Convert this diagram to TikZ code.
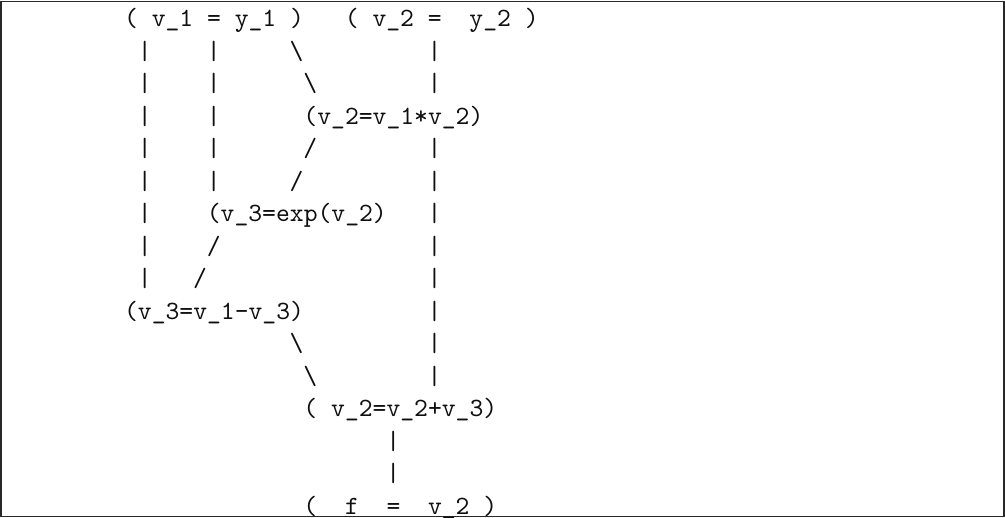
\documentclass[tikz,border=0pt]{standalone}
\usepackage{tikz}
\usepackage{xcolor}
\usetikzlibrary{positioning}
\definecolor{ink}{RGB}{15, 15, 15}
\definecolor{rim}{RGB}{40, 40, 40}
\tikzset{
    cell/.style={inner sep=0pt, outer sep=0pt, anchor=base west, font=\ttfamily, text=ink},
    stmt/.style={cell},
    wire/.style={cell},
    frame/.style={draw=rim, line width=0.45pt}
}

\begin{document}
\begin{tikzpicture}[x=0.184cm, y=-0.4333cm]
        \useasboundingbox (0,0) rectangle (72.83,15.94);
        \draw[frame] (0.072,0.046) rectangle (72.75,15.89);
        \begin{scope}[shift={(8.993,0.818)}]
        \node[stmt] (in1) at (0,0) {(~v\_1~=~y\_1~)};
        \node[stmt] (in2) at (16,0) {(~v\_2~=~~y\_2~)};
        \node[stmt] (mul) at (13,3) {(v\_2=v\_1*v\_2)};
        \node[stmt] (expo) at (6,6) {(v\_3=exp(v\_2)};
        \node[stmt] (sub) at (0,9) {(v\_3=v\_1-v\_3)};
        \node[stmt] (add) at (13,12) {(~v\_2=v\_2+v\_3)};
        \node[stmt] (out) at (13,15) {(~~f~~=~~v\_2~)};

        \foreach \r in {1,...,8} \node[wire] (l\r) at (1,\r) {|};
        \foreach \r in {1,...,5} \node[wire] (m\r) at (6,\r) {|};
        \foreach \r in {1,2,4,5,6,7,8,9,10,11} \node[wire] (r\r) at (22,\r) {|};
        \foreach \r in {13,14} \node[wire] (f\r) at (19,\r) {|};
        \foreach \c/\r in {12/1,13/2,12/10,13/11} \node[wire] (b\r) at (\c,\r) {\textbackslash};
        \foreach \c/\r in {13/4,12/5,6/7,5/8} \node[wire] (s\r) at (\c,\r) {/};
        \end{scope}
\end{tikzpicture}
\end{document}
